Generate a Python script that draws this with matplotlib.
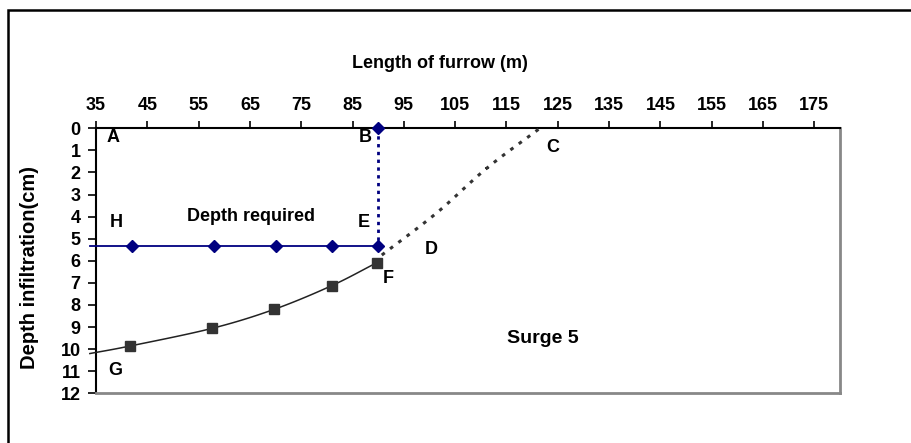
import numpy as np
import matplotlib.pyplot as plt
from matplotlib.patches import Rectangle

plt.rcParams['font.family'] = ['Liberation Sans', 'DejaVu Sans']
plt.rcParams['font.weight'] = 'bold'

# ---- data ----
# required depth line (H - E)
req_x = [42, 58, 70, 81, 90]
req_y = [5.33, 5.33, 5.33, 5.33, 5.33]
req_start = 33.8          # line runs a little past the y axis
# vertical B - E
be_x = [90, 90]
be_y = [0, 5.33]
# infiltration profile surge 5 (G - F)
inf_x = [41.6, 57.6, 69.7, 80.9, 89.7]
inf_y = [9.86, 9.06, 8.2, 7.13, 6.09]
inf_start = (33.8, 10.2)
# extrapolated front (F - C)
ext_x = [90.7, 101.4, 111.2, 121.5]
ext_y = [5.74, 3.83, 1.8, 0.0]

xticks = np.arange(35, 176, 10)
yticks = np.arange(0, 13, 1)

labels = {'A': (38.3, 0.41), 'B': (87.4, 0.41), 'C': (124.1, 0.88),
          'D': (100.4, 5.48), 'E': (87.2, 4.27), 'F': (92.0, 6.79),
          'G': (38.7, 10.98), 'H': (39.0, 4.27)}


def smooth(x, y, n=20):
    # catmull-rom through the points, like excel's smoothed line
    x = np.asarray(x, float); y = np.asarray(y, float)
    px = np.concatenate([[2*x[0]-x[1]], x, [2*x[-1]-x[-2]]])
    py = np.concatenate([[2*y[0]-y[1]], y, [2*y[-1]-y[-2]]])
    ox, oy = [], []
    t = np.linspace(0, 1, n)
    for i in range(1, len(px)-2):
        for p, o in ((px, ox), (py, oy)):
            p0, p1, p2, p3 = p[i-1], p[i], p[i+1], p[i+2]
            o.extend(0.5*((2*p1) + (-p0+p2)*t + (2*p0-5*p1+4*p2-p3)*t**2
                          + (-p0+3*p1-3*p2+p3)*t**3))
    return ox, oy


fig = plt.figure(figsize=(9.12, 4.43), dpi=100)
ax = fig.add_axes([96/912, 1-393.3/443, 744/912, 265/443])

# outer chart frame (only left and top visible in the crop)
fig.patches.append(Rectangle((8/912, -0.1), 1.2, 1-10/443+0.1, transform=fig.transFigure,
                             fill=False, edgecolor='black', linewidth=1.8))

navy = '#000080'
ax.plot([req_start] + req_x, [req_y[0]] + req_y, color=navy, lw=1.3, clip_on=False, zorder=3)
ax.plot(req_x, req_y, ls='none', marker='D', ms=6.5, color=navy, clip_on=False, zorder=4)
ax.plot(be_x, be_y, color=navy, lw=2, ls=(0, (1.2, 1.6)), zorder=3)
ax.plot(be_x[0], be_y[0], marker='D', ms=6.5, color=navy, clip_on=False, zorder=5)

sx, sy = smooth([inf_start[0]] + inf_x, [inf_start[1]] + inf_y)
ax.plot(sx, sy, color='#222222', lw=1.1, clip_on=False, zorder=3)
ax.plot(inf_x, inf_y, ls='none', marker='s', ms=6.5, color='#333333', zorder=4)

ex, ey = smooth(ext_x, ext_y)
ax.plot(ex, ey, color='#333333', lw=2.2, ls=(0, (1.2, 2.2)), zorder=3)

for k, (x, y) in labels.items():
    ax.text(x, y, k, ha='center', va='center', fontsize=13, fontweight='bold')
ax.text(65.2, 4.0, 'Depth required', ha='center', va='center', fontsize=13, fontweight='bold')
ax.text(122.1, 9.51, 'Surge 5', ha='center', va='center', fontsize=14, fontweight='bold')

ax.set_xlim(35, 180)
ax.set_ylim(12, 0)
ax.xaxis.tick_top()
ax.set_xticks(xticks)
ax.set_yticks(yticks)
ax.tick_params(axis='x', direction='out', length=5, width=1.2, pad=5, labelsize=13)
ax.tick_params(axis='y', direction='out', length=6, width=1.2, pad=5, labelsize=13)
for lab in ax.get_xticklabels() + ax.get_yticklabels():
    lab.set_fontweight('bold')

ax.spines['top'].set_linewidth(1.5)
ax.spines['left'].set_linewidth(1.5)
for s in ('right', 'bottom'):
    ax.spines[s].set_color('#888888')
    ax.spines[s].set_linewidth(2)

fig.text(440/912, 1-64/443, 'Length of furrow (m)', ha='center', va='center',
         fontsize=13, fontweight='bold')
fig.text(30/912, 1-267.5/443, 'Depth infiltration(cm)', ha='center', va='center',
         rotation=90, fontsize=14.5, fontweight='bold')

fig.savefig('out.png', dpi=100)
